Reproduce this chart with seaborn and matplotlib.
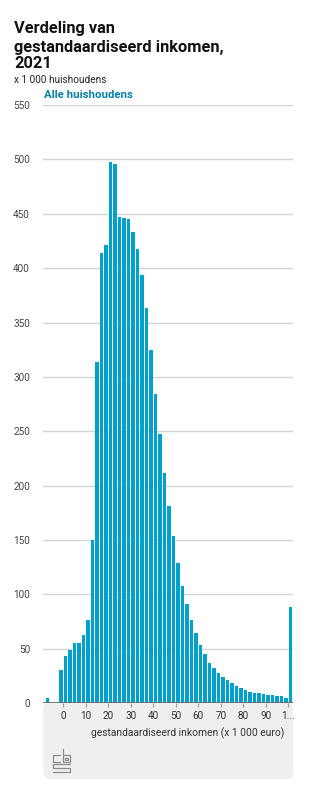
import matplotlib
matplotlib.use("Agg")
import matplotlib.pyplot as plt
from matplotlib.patches import FancyBboxPatch
from matplotlib.lines import Line2D
import seaborn as sns
import pandas as pd

# ---- data -------------------------------------------------------------
bin_start = [-8, -2, 0, 2, 4, 6, 8, 10, 12, 14, 16, 18, 20, 22, 24, 26, 28,
             30, 32, 34, 36, 38, 40, 42, 44, 46, 48, 50, 52, 54, 56, 58, 60,
             62, 64, 66, 68, 70, 72, 74, 76, 78, 80, 82, 84, 86, 88, 90, 92,
             94, 96, 98, 100]
households = [5, 30, 43, 49, 55, 55, 63, 76, 150, 314, 414, 421, 498, 496,
              447, 446, 445, 433, 418, 394, 363, 325, 284, 247, 212, 181,
              154, 129, 108, 91, 76, 64, 53, 45, 37, 32, 28, 24, 21, 18, 16,
              14, 12, 10, 9.5, 9, 8, 7.5, 7.5, 6, 6, 5, 88]
x_ticks = [0, 10, 20, 30, 40, 50, 60, 70, 80, 90, 100]
x_tick_labels = ["0", "10", "20", "30", "40", "50", "60", "70", "80", "90", "1..."]
y_ticks = [0, 50, 100, 150, 200, 250, 300, 350, 400, 450, 500, 550]

title_lines = ["Verdeling van", "gestandaardiseerd inkomen,", "2021"]
unit_text = "x 1 000 huishoudens"
series_name = "Alle huishoudens"
x_title = "gestandaardiseerd inkomen (x 1 000 euro)"

df = pd.DataFrame({"mid": [b + 1 for b in bin_start], "n": households})

# ---- style ------------------------------------------------------------
sns.set_style("white")
plt.rcParams["font.family"] = ["Roboto", "DejaVu Sans"]

BAR = "#00a1cd"
LEG = "#0581a8"
W, H = 325, 800

fig = plt.figure(figsize=(W / 100, H / 100), dpi=100)
fig.patch.set_facecolor("white")


def fx(x):
    return x / W


def fy(y):
    return 1 - y / H


# grey footer box
box = FancyBboxPatch((43.3 / 100, (H - 779) / 100), 250 / 100, (779 - 703) / 100,
                     boxstyle="round,pad=0,rounding_size=0.06",
                     transform=fig.dpi_scale_trans, facecolor="#efefef",
                     edgecolor="none", zorder=-5)
fig.patches.append(box)

ax = fig.add_axes([fx(43.3), fy(703), fx(293.3) - fx(43.3), (703 - 105.1) / H])
ax.set_facecolor("none")

sns.barplot(data=df, x="mid", y="n", native_scale=True, color=BAR,
            saturation=1, width=0.82, errorbar=None, linewidth=0, ax=ax,
            zorder=3)

ax.set_xlim(-8.9, 102.2)
ax.set_ylim(0, 550)

for v in y_ticks[1:]:
    ax.axhline(v, color="#d4d4d4", lw=1.0, zorder=1)
ax.axhline(0, color="#6a6a6a", lw=1.3, zorder=4)

for s in ax.spines.values():
    s.set_visible(False)

ax.set_yticks(y_ticks)
ax.set_yticklabels([str(v) for v in y_ticks])
ax.tick_params(axis="y", left=False, labelleft=True, length=0, pad=9.5,
               labelsize=7.2, labelcolor="#444444")
ax.set_xticks(x_ticks)
ax.set_xticklabels(x_tick_labels)
ax.tick_params(axis="x", bottom=True, labelbottom=True, length=3.2, width=0.8,
               color="#999999", pad=2.5, labelsize=7.2, labelcolor="#333333",
               direction="out")
ax.set_xlabel("")
ax.set_ylabel("")

# texts
fig.text(fx(14), fy(33.3), title_lines[0], fontsize=11.8, fontweight="bold",
         color="#111111", va="baseline", ha="left")
fig.text(fx(14), fy(51.6), title_lines[1], fontsize=11.8, fontweight="bold",
         color="#111111", va="baseline", ha="left")
fig.text(fx(14), fy(68.3), title_lines[2], fontsize=11.8, fontweight="bold",
         color="#111111", va="baseline", ha="left")
fig.text(fx(14), fy(83.3), unit_text, fontsize=7.2, color="#222222",
         va="baseline", ha="left")
fig.text(fx(43.5), fy(97.7), series_name, fontsize=8.2, fontweight="bold",
         color=LEG, va="baseline", ha="left")
fig.text(fx(284), fy(733), x_title, fontsize=7.4, color="#333333",
         va="center", ha="right")

# cbs logo (simplified)
LOGO = "#8c8c8c"


def pl(pts):
    xs = [fx(p[0]) for p in pts]
    ys = [fy(p[1]) for p in pts]
    fig.add_artist(Line2D(xs, ys, transform=fig.transFigure, color=LOGO,
                          lw=0.9, solid_joinstyle="miter"))


pl([(60, 755), (52.5, 755), (52.5, 762), (60, 762)])
pl([(62.5, 749), (62.5, 762), (70, 762), (70, 755), (62.5, 755)])
pl([(65, 757.5), (67.5, 757.5), (67.5, 759.5), (65, 759.5), (65, 757.5)])
pl([(70, 764), (52.5, 764), (52.5, 768), (70, 768), (70, 772), (52.5, 772)])

fig.savefig("out.png", dpi=100)
